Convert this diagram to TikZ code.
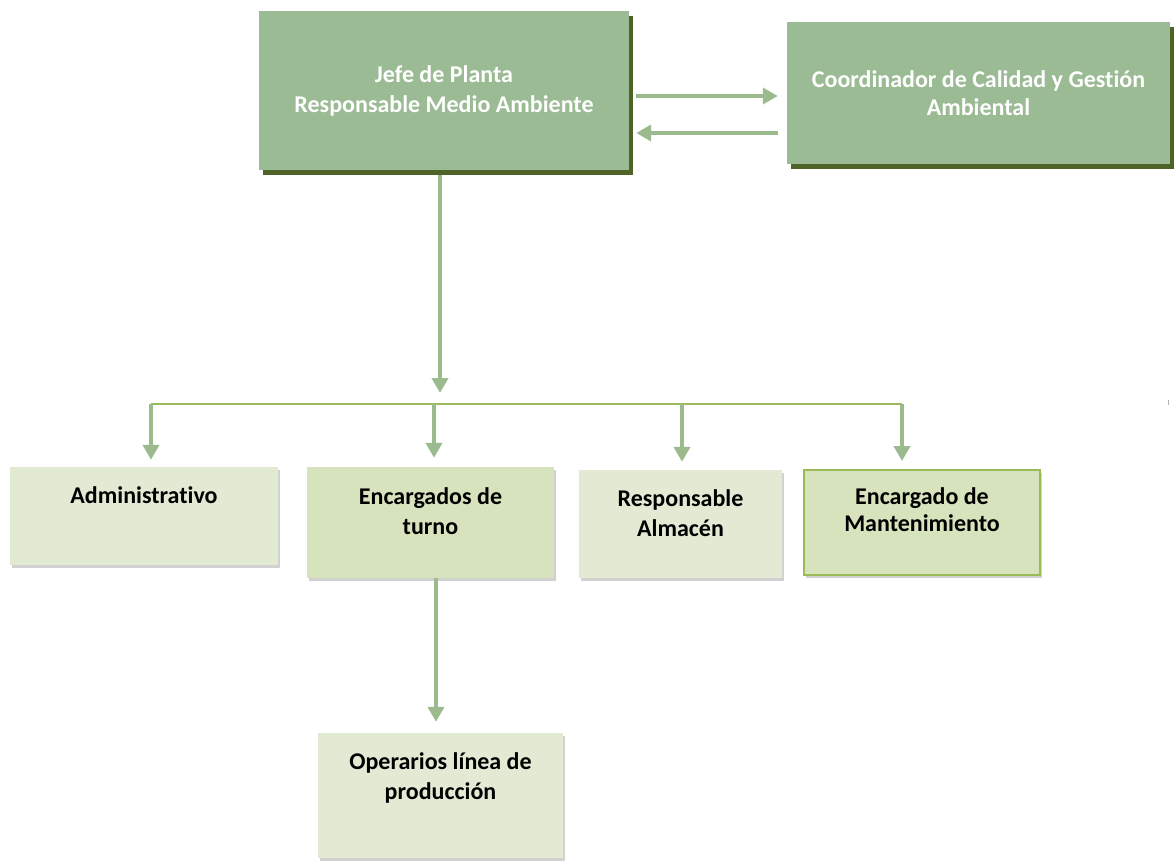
\documentclass[tikz,border=0pt]{standalone}
\usepackage{fontspec}
\setmainfont{Carlito}[Ligatures=NoCommon]
\usetikzlibrary{arrows.meta,shadows}
\definecolor{topfill}{HTML}{9BBB94}
\definecolor{topshadow}{HTML}{4F6228}
\definecolor{lightfill}{HTML}{E3EAD4}
\definecolor{midfill}{HTML}{D7E3BC}
\definecolor{arrowcol}{HTML}{9BBB8E}
\definecolor{buscol}{HTML}{9BBB59}
\definecolor{bordercol}{HTML}{9BBB59}
\begin{document}
\begin{tikzpicture}[x=1pt,y=-1pt,
  topbox/.style={fill=topfill, inner sep=0pt, align=center, text=white,
    font=\fontsize{24}{30}\selectfont\bfseries,
    drop shadow={shadow xshift=4pt, shadow yshift=-5pt, fill=topshadow, opacity=1}},
  lowbox/.style={inner sep=0pt,
    drop shadow={shadow xshift=2pt, shadow yshift=-3pt, fill=black, opacity=0.18}},
  lowtext/.style={anchor=north, inner sep=0pt, align=center,
    font=\fontsize{24}{30}\selectfont\bfseries},
  arr/.style={draw=arrowcol, line width=4pt, -{Triangle[width=16pt,length=15pt]}},
  bus/.style={draw=buscol, line width=2.5pt}
]
\useasboundingbox (0,0) rectangle (1176,864);

% top boxes
\node[topbox, minimum width=370pt, minimum height=159pt] (jefe) at (444,90.5)
  {Jefe de Planta\\Responsable Medio Ambiente};
\node[topbox, minimum width=383pt, minimum height=142pt,
  font=\fontsize{24}{28}\selectfont\bfseries] (coord) at (978.5,93)
  {Coordinador de Calidad y Gestión\\Ambiental};

% lower boxes
\node[lowbox, fill=lightfill, minimum width=268pt, minimum height=98pt] (adm) at (144,516) {};
\node[lowbox, fill=midfill, minimum width=247pt, minimum height=111pt] (enc) at (430.5,522.5) {};
\node[lowbox, fill=lightfill, minimum width=203pt, minimum height=108pt] (alm) at (680.5,524) {};
\node[lowbox, fill=midfill, draw=bordercol, line width=2pt, minimum width=236pt, minimum height=105pt] (man) at (922,522.5) {};
\node[lowbox, fill=lightfill, minimum width=245pt, minimum height=125pt] (ope) at (440.5,795.5) {};

\node[lowtext] (admt) at ([yshift=-20pt]adm.north) {Administrativo};
\node[lowtext] (enct) at ([yshift=-21pt]enc.north) {Encargados de\\turno};
\node[lowtext] (almt) at ([yshift=-20pt]alm.north) {Responsable\\Almacén};
\node[lowtext, font=\fontsize{24}{27}\selectfont\bfseries] (mant) at ([yshift=-18pt]man.north) {Encargado de\\Mantenimiento};
\node[lowtext] (opet) at ([yshift=-20pt]ope.north) {Operarios línea de\\producción};

% arrows between top boxes
\coordinate (yR) at (0,96);
\coordinate (yL) at (0,133);
\draw[arr, shorten <=7pt, shorten >=9pt] (jefe.east |- yR) -- (coord.west |- yR);
\draw[arr, shorten <=9pt, shorten >=7pt] (coord.west |- yL) -- (jefe.east |- yL);

% main vertical
\coordinate (hub) at (440,393);
\draw[arr, shorten <=5pt] (jefe.south -| hub) -- (hub);

% bus
\coordinate (b1) at (151,404);
\coordinate (b2) at (434,404);
\coordinate (b3) at (682,404);
\coordinate (b4) at (902,404);
\draw[bus] (b1) -- (b4);
\draw[arr, shorten >=7pt] (b1) -- (adm.north -| b1);
\draw[arr, shorten >=9pt] (b2) -- (enc.north -| b2);
\draw[arr, shorten >=8pt] (b3) -- (alm.north -| b3);
\draw[arr, shorten >=8pt] (b4) -- (man.north -| b4);

% encargados -> operarios
\coordinate (ex) at (436,0);
\draw[arr, shorten >=11pt] (enc.south -| ex) -- (ope.north -| ex);

% small tick mark
\draw[gray!60, line width=1pt] (1168,400) -- (1168,405);
\end{tikzpicture}
\end{document}
